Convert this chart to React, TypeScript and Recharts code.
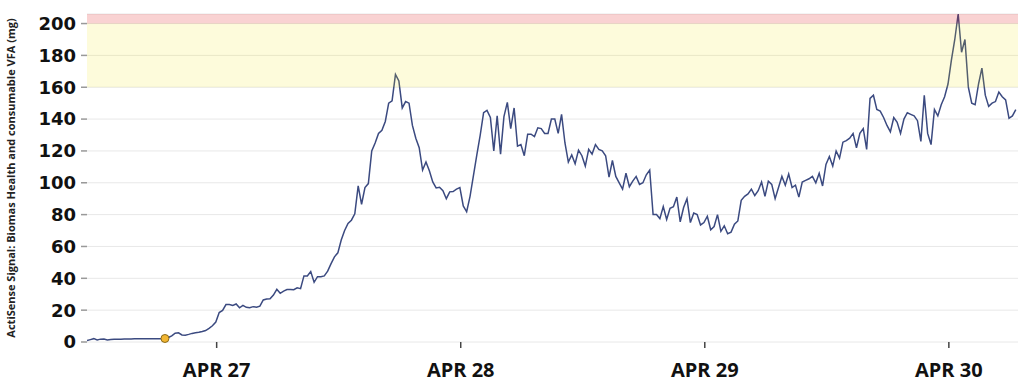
import React from 'react';
import {
  LineChart,
  Line,
  XAxis,
  YAxis,
  CartesianGrid,
  ReferenceArea,
  ReferenceDot,
} from 'recharts';

// Readings every 20 minutes, starting Apr 26 11:15 (hours relative to Apr 27 00:00)
const START_HOUR = -12.75;
const STEP_HOURS = 1 / 3;

// ActiSense signal (mg)
const signal: number[] = [
  0.9, 1.5, 2.1, 1.3, 1.8, 1.9, 1.3, 1.6, 1.7, 1.8,
  1.8, 1.9, 1.9, 1.9, 2.0, 2.0, 2.0, 2.0, 2.1, 2.0,
  2.1, 2.1, 2.1, 2.2, 2.8, 3.8, 5.5, 5.8, 4.4, 4.3,
  4.8, 5.4, 5.8, 6.1, 6.6, 7.2, 8.6, 10.2, 12.5, 18.5,
  19.8, 23.5, 23.6, 23.0, 23.9, 21.5, 23.0, 21.8, 21.5, 22.2,
  21.9, 22.5, 26.4, 27.0, 27.2, 29.5, 33.1, 30.6, 32.0, 32.9,
  33.0, 32.8, 34.0, 33.5, 41.5, 41.5, 44.2, 37.5, 41.0, 41.0,
  41.5, 44.5, 49.2, 53.5, 56.0, 64.0, 70.0, 74.5, 76.5, 80.5,
  98.0, 86.5, 97.0, 99.5, 120.0, 125.0, 131.0, 133.0, 138.5, 150.0,
  151.5, 168.0, 164.0, 147.0, 151.0, 150.0, 136.0, 128.0, 122.0, 108.0,
  113.0, 107.5, 100.5, 96.8, 97.2, 95.0, 90.0, 94.3, 94.5, 96.0,
  97.0, 85.5, 81.8, 91.5, 104.5, 117.5, 130.0, 144.0, 145.5, 141.0,
  120.0, 142.0, 118.0, 141.5, 150.5, 134.0, 147.0, 123.0, 124.0, 117.0,
  130.5, 130.5, 129.0, 134.5, 134.0, 131.0, 131.0, 140.0, 140.0, 131.0,
  143.0, 125.0, 113.0, 117.5, 112.0, 120.5, 117.0, 110.5, 121.0, 118.0,
  124.0, 121.0, 120.0, 117.0, 103.5, 114.0, 104.0, 100.0, 96.0, 106.0,
  97.5, 101.0, 104.0, 99.0, 100.0, 105.0, 108.0, 80.0, 80.0, 77.5,
  85.0, 77.0, 84.0, 85.0, 91.0, 75.5, 84.5, 90.0, 75.0, 81.0,
  80.0, 73.5, 75.0, 79.0, 70.5, 72.5, 80.0, 69.5, 73.0, 68.0,
  69.0, 74.0, 76.0, 89.0, 91.5, 93.0, 96.0, 92.0, 95.0, 100.5,
  91.5, 101.0, 99.0, 90.0, 97.0, 104.0, 98.5, 105.5, 97.0, 98.5,
  91.0, 100.5, 101.5, 102.5, 104.0, 100.0, 106.0, 98.0, 111.5, 116.5,
  110.5, 120.0, 115.5, 125.5, 126.5, 128.0, 131.0, 122.0, 131.0, 134.0,
  121.0, 153.0, 155.0, 146.0, 145.0, 141.0, 136.0, 132.0, 141.0, 138.0,
  131.0, 140.0, 144.0, 143.0, 142.0, 139.0, 126.0, 155.0, 131.0, 124.0,
  146.0, 142.0, 149.0, 154.0, 162.0, 177.0, 190.0, 206.0, 182.0, 190.0,
  160.0, 150.0, 149.0, 162.0, 172.0, 155.0, 148.0, 150.0, 151.0, 157.0,
  154.0, 152.0, 140.5, 142.0, 146.0,
];

const dayTicks = [0, 24, 48, 72];
const dayLabels = ['APR 27', 'APR 28', 'APR 29', 'APR 30'];
const yTicks = [0, 20, 40, 60, 80, 100, 120, 140, 160, 180, 200];
const xDomain: [number, number] = [-12.75, 78.8];
const yDomain: [number, number] = [0, 206];
const warnBand = [160, 200];
const alarmBand = [200, 206];
const markerIndex = 23;
const yTitle = 'ActiSense Signal: Biomas Health and consumable VFA (mg)';

const data = signal.map((v, i) => ({ t: START_HOUR + i * STEP_HOURS, v }));

export default function App() {
  return (
    <div style={{ position: 'absolute', left: 0, top: 0, width: 1024, height: 389, background: '#fff' }}>
      <LineChart width={1024} height={389} data={data} margin={{ top: 14, right: 6, bottom: 7, left: 0 }}>
        <CartesianGrid vertical={false} stroke="#e8e8e8" strokeWidth={1} />
        <XAxis
          dataKey="t"
          type="number"
          domain={xDomain}
          ticks={dayTicks}
          tickFormatter={(t: number) => dayLabels[dayTicks.indexOf(t)]}
          axisLine={false}
          tickSize={6}
          tickMargin={15}
          tickLine={{ stroke: '#444', strokeWidth: 1.5 }}
          tick={{ fontFamily: 'Open Sans', fontWeight: 700, fontSize: 20, fill: '#111' }}
          height={40}
          allowDataOverflow
        />
        <YAxis
          type="number"
          domain={yDomain}
          ticks={yTicks}
          width={87}
          axisLine={false}
          tickSize={6}
          tickMargin={5}
          tickLine={{ stroke: '#999', strokeWidth: 1.5 }}
          tick={{ fontFamily: 'DejaVu Sans', fontWeight: 700, fontSize: 18, fill: '#111' }}
          label={{
            value: yTitle,
            angle: -90,
            position: 'insideLeft',
            offset: 11,
            style: { textAnchor: 'middle', fontFamily: 'Open Sans', fontWeight: 700, fontSize: 11, fill: '#222' },
          }}
        />
        <Line
          dataKey="v"
          type="linear"
          stroke="#3b4a80"
          strokeWidth={1.5}
          dot={false}
          isAnimationActive={false}
        />
        <ReferenceArea y1={warnBand[0]} y2={warnBand[1]} fill="#f0e600" fillOpacity={0.14} stroke="none" zIndex={500} />
        <ReferenceArea y1={alarmBand[0]} y2={alarmBand[1]} fill="#e02020" fillOpacity={0.2} stroke="none" zIndex={500} />
        <ReferenceDot
          x={data[markerIndex].t}
          y={data[markerIndex].v}
          r={4}
          fill="#f2b632"
          stroke="#8a6a1a"
          strokeWidth={1}
        />
      </LineChart>
    </div>
  );
}
